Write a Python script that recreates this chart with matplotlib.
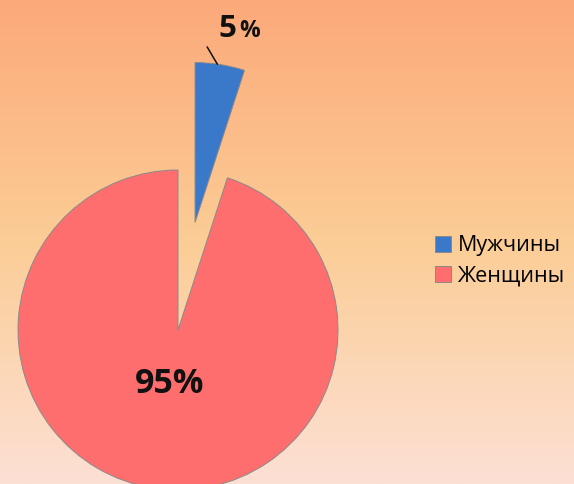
import numpy as np
import matplotlib
matplotlib.use("Agg")
import matplotlib.pyplot as plt
from matplotlib.colors import LinearSegmentedColormap

labels = ["Мужчины", "Женщины"]
values = [5, 95]
colors = ["#3A78C9", "#FF6E6E"]
explode = [0.68, 0.0]

plt.rcParams["font.family"] = ["Open Sans", "DejaVu Sans"]

W, H = 574, 484
fig = plt.figure(figsize=(W / 100, H / 100), dpi=100)

# background gradient
bg = fig.add_axes([0, 0, 1, 1], zorder=0)
cmap = LinearSegmentedColormap.from_list(
    "bg", [(0.0, "#FCA97A"), (0.5, "#FBCD96"), (1.0, "#FDE0D4")])
grad = np.linspace(0, 1, 256).reshape(-1, 1)
bg.imshow(grad, aspect="auto", cmap=cmap, extent=[0, 1, 0, 1], origin="upper")
bg.axis("off")

# pie: centre at (178, 330) px, radius 160 px
cx, cy, R = 178, 330, 160
ax = fig.add_axes([0, 0, 1, 1], zorder=1)
ax.patch.set_alpha(0)

wedges, _ = ax.pie(values, explode=explode, colors=colors, startangle=90,
                   counterclock=False, radius=1, frame=True,
                   wedgeprops=dict(edgecolor="#8a8a8a", linewidth=0.7))
ax.set_xlim(-cx / R, (W - cx) / R)
ax.set_ylim(-(H - cy) / R, cy / R)
ax.set_aspect("auto")
ax.axis("off")

# 95% label inside the red slice
w = wedges[1]
mid = np.deg2rad((w.theta1 + w.theta2) / 2)
ax.text(w.center[0] + 0.34 * np.cos(mid), w.center[1] + 0.34 * np.sin(mid),
        f"{values[1]}%", ha="center", va="center", fontsize=24.5,
        fontweight="bold", color="#111111")

# 5% label above the exploded blue slice with leader line
w = wedges[0]
mid = np.deg2rad((w.theta1 + w.theta2) / 2 + 1)
px, py = w.center[0] + np.cos(mid), w.center[1] + np.sin(mid)
ax.plot([px, px - 0.0625], [py, py + 0.106], color="#111111", lw=1.1)
ax.text(px + 0.005, py + 0.17, f"{values[0]}", ha="left", va="baseline",
        fontsize=22.5, fontweight="bold", color="#111111")
ax.text(px + 0.135, py + 0.17, "%", ha="left", va="baseline",
        fontsize=16.5, fontweight="bold", color="#111111")

fig.legend(wedges, labels, loc="center left",
           bbox_to_anchor=(435 / W, 1 - 261 / H), frameon=False,
           fontsize=15.5, handlelength=0.72, handleheight=0.72,
           handletextpad=0.32, labelspacing=0.42, borderpad=0,
           borderaxespad=0)

fig.savefig("out.png", dpi=100)
